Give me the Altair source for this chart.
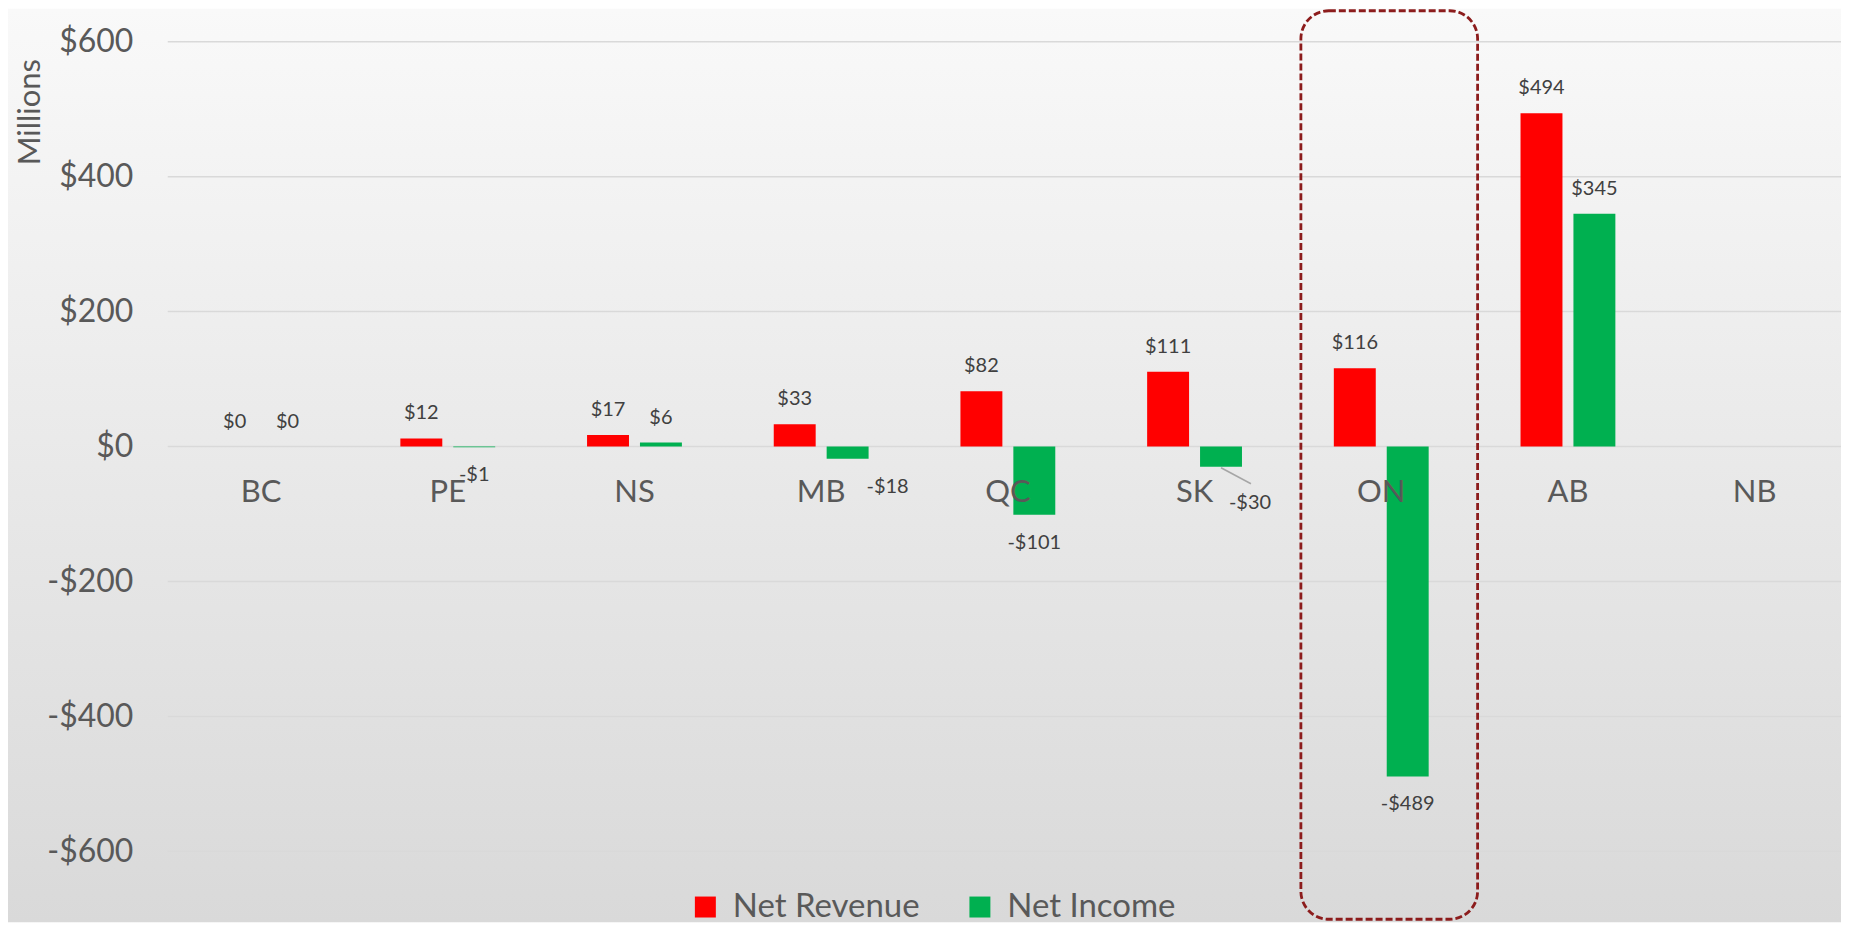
import altair as alt
import pandas as pd

# ---------------- data ----------------
categories = ["BC", "PE", "NS", "MB", "QC", "SK", "ON", "AB", "NB"]
net_revenue = [0, 12, 17, 33, 82, 111, 116, 494, None]
net_income = [0, -1, 6, -18, -101, -30, -489, 345, None]
series_names = ["Net Revenue", "Net Income"]
series_colors = ["#FF0000", "#00B050"]
y_ticks = [-600, -400, -200, 0, 200, 400, 600]
highlight = ["ON"]

rows = []
for c, r, i in zip(categories, net_revenue, net_income):
    rows.append({"cat": c, "series": series_names[0], "value": r})
    rows.append({"cat": c, "series": series_names[1], "value": i})
df = pd.DataFrame(rows).dropna()

# ---------------- layout ----------------
W, H = 1676, 811
SVG_H = 915
PAD_L, PAD_T = 160, 33
PAD_B = SVG_H - PAD_T - H

x_scale = alt.Scale(domain=categories, range=[0, 1683], paddingInner=0, paddingOuter=0)
y_scale = alt.Scale(domain=[-600, 600], nice=False)
xoff_scale = alt.Scale(domain=series_names, paddingInner=0.2075, paddingOuter=0.868)
color_scale = alt.Scale(domain=series_names, range=series_colors)

yaxis = alt.Axis(
    values=y_ticks, grid=False, domain=False, ticks=False, labelFlush=False,
    labelExpr="datum.value < 0 ? '-$' + abs(datum.value) : '$' + datum.value",
    labelFontSize=32, labelColor="#595959", labelPadding=35, labelFont="Lato",
    title="Millions", titleFontSize=31, titleFontWeight="normal", titleColor="#595959",
    titleFont="Lato", titleAngle=270, titleX=-128, titleY=70,
    titleAlign="center", titleBaseline="alphabetic", zindex=1,
)

X = alt.X("cat:N", scale=x_scale, axis=None)
XO = alt.XOffset("series:N", scale=xoff_scale)
Y = alt.Y("value:Q", scale=y_scale, axis=yaxis)

label_expr = "(datum.value < 0 ? '-$' : '$') + abs(datum.value)"

# background gradient
bg = alt.Chart(pd.DataFrame({"k": [0]})).mark_rect(
    fill=alt.Gradient(
        gradient="linear",
        stops=[alt.GradientStop(color="#f9f9f9", offset=0),
               alt.GradientStop(color="#d9d9d9", offset=1)],
        x1=0, x2=0, y1=0, y2=1,
    )
).encode(x=alt.value(-PAD_L), x2=alt.value(W), y=alt.value(-PAD_T), y2=alt.value(H + PAD_B))

# gridlines
grid = alt.Chart(pd.DataFrame({"tick": y_ticks})).mark_rule(
    color="#d9d9d9", strokeWidth=1.5
).encode(y=alt.Y("tick:Q", scale=y_scale, axis=yaxis), x=alt.value(0), x2=alt.value(W))

bars = alt.Chart(df).mark_bar().encode(
    x=X, xOffset=XO, y=Y,
    color=alt.Color(
        "series:N", scale=color_scale,
        legend=alt.Legend(
            title=None, orient="none", legendX=522, legendY=850, direction="horizontal",
            symbolType="square", symbolSize=441, symbolStrokeWidth=0, symbolOpacity=1,
            labelFontSize=33, labelColor="#595959", labelFont="Lato", labelOffset=11,
            labelLimit=0, columnPadding=43, padding=0,
        ),
    ),
)

lbl = alt.Chart(df).transform_calculate(label=label_expr)
txt = dict(fontSize=20, color="#404040", font="Lato", baseline="middle")
enc = dict(x=X, xOffset=XO, y=Y, text=alt.Text("label:N"))
mb_inc = "datum.cat == 'MB' && datum.series == 'Net Income'"
sk_inc = "datum.cat == 'SK' && datum.series == 'Net Income'"

pos_lbl = lbl.transform_filter("datum.value >= 0").mark_text(dy=-25, **txt).encode(**enc)
neg_lbl = lbl.transform_filter(f"datum.value < 0 && !({mb_inc}) && !({sk_inc})").mark_text(dy=28, **txt).encode(**enc)
mb_lbl = lbl.transform_filter(mb_inc).mark_text(dx=40, dy=28, **txt).encode(**enc)
sk_lbl = lbl.transform_filter(sk_inc).mark_text(dx=29, dy=36, **txt).encode(**enc)

leader = alt.Chart(df).transform_filter(sk_inc).mark_rule(
    color="#a6a6a6", strokeWidth=1.5, xOffset=26.5, x2Offset=56.5, yOffset=1, y2Offset=17
).encode(x=X, x2=alt.X2("cat"), y=Y, y2=alt.Y2("value"))

cat_lbl = alt.Chart(pd.DataFrame({"cat": categories})).mark_text(
    dy=47, fontSize=31, color="#595959", font="Lato", baseline="middle"
).encode(x=X, y=alt.datum(0), text="cat:N")

box = alt.Chart(pd.DataFrame({"cat": highlight})).mark_bar(
    width=177, xOffset=8, cornerRadius=28, fill="#ffffff", fillOpacity=0,
    stroke="#8C1C1C", strokeWidth=2.8, strokeDash=[7, 3],
).encode(x=X, y=alt.value(-31), y2=alt.value(H + PAD_B - 3))

chart = alt.layer(
    bg, grid, bars, pos_lbl, neg_lbl, mb_lbl, sk_lbl, leader, cat_lbl, box
).properties(
    width=W, height=H,
    padding={"left": PAD_L, "top": PAD_T, "right": 0, "bottom": PAD_B},
    autosize=alt.AutoSizeParams(type="none"),
    background="#ffffff",
).configure(font="Lato").configure_view(strokeWidth=0)

chart.save("out.html", embed_options={"renderer": "svg", "actions": False})
